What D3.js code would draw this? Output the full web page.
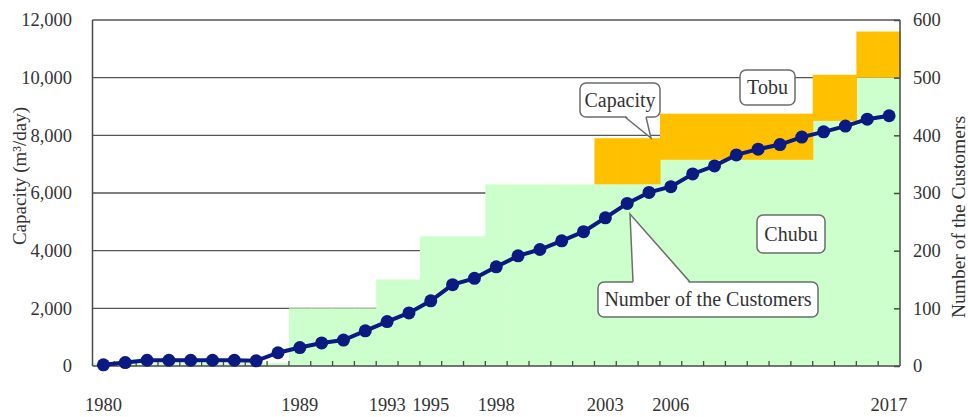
<!DOCTYPE html>
<html>
<head>
<meta charset="utf-8">
<script src="https://cdn.jsdelivr.net/npm/d3@7"></script>
<style>
  html, body { margin: 0; padding: 0; background: #fff; }
  svg { display: block; }
  text { font-family: "Liberation Serif", "Times New Roman", serif; fill: #333; }
</style>
</head>
<body>
<svg id="chart" width="968" height="417"></svg>
<script>
// ---------------- data ----------------
const years = [1980,1981,1982,1983,1984,1985,1986,1987,1988,1989,1990,1991,1992,1993,1994,1995,1996,1997,1998,1999,2000,2001,2002,2003,2004,2005,2006,2007,2008,2009,2010,2011,2012,2013,2014,2015,2016];
const customers = [2,6,10,10,10,10,10,9,23,32,40,45,61,77,92,113,141,152,172,191,202,217,233,257,282,301,311,333,347,366,376,384,397,406,416,428,434];
const chubu = [100,100,100,100,100,100,100,100,100,2000,2000,2000,2000,3000,3000,4500,4500,4500,6300,6300,6300,6300,6300,6300,6300,6300,7150,7150,7150,7150,7150,7150,7150,8500,8500,10000,10000];
const tobu  = [0,0,0,0,0,0,0,0,0,0,0,0,0,0,0,0,0,0,0,0,0,0,0,1600,1600,1600,1600,1600,1600,1600,1600,1600,1600,1600,1600,1600,1600];
const leftTicks = [0,2000,4000,6000,8000,10000,12000];
const rightTicks = [0,100,200,300,400,500,600];
const tickYears  = [1980,1989,1993,1995,1998,2003,2006,2016];
const tickLabels = ["1980","1989","1993","1995","1998","2003","2006","2017"];
const leftTitle = "Capacity (m³/day)";
const rightTitle = "Number of the Customers";

// ---------------- layout ----------------
const X0 = 92.5, X1 = 900, YT = 20, YB = 366;
const svg = d3.select("#chart");
const x = d3.scaleBand().domain(years).range([X0, X1]).padding(0);
const bw = x.bandwidth();
const yL = d3.scaleLinear().domain([0, 12000]).range([YB, YT]);
const yR = d3.scaleLinear().domain([0, 600]).range([YB, YT]);

const GREEN = "#ccffcc", ORANGE = "#ffc000", NAVY = "#0b1a80", AX = "#4a4a4a";

// gridlines
svg.append("g").selectAll("line").data(leftTicks.filter(d => d > 0)).join("line")
  .attr("x1", X0).attr("x2", X1)
  .attr("y1", d => yL(d)).attr("y2", d => yL(d))
  .attr("stroke", "#555").attr("stroke-width", 1.3);

// stacked capacity steps
const stackData = years.map((yr, i) => ({ year: yr, chubu: chubu[i], tobu: tobu[i] }));
const series = d3.stack().keys(["chubu", "tobu"])(stackData);
const colors = { chubu: GREEN, tobu: ORANGE };
series.forEach(s => {
  svg.append("g").selectAll("rect").data(s).join("rect")
    .attr("x", d => x(d.data.year))
    .attr("width", bw + 0.6)
    .attr("y", d => yL(d[1]))
    .attr("height", d => Math.max(0, yL(d[0]) - yL(d[1])))
    .attr("fill", colors[s.key]);
});

// frame lines
svg.append("line").attr("x1", X0).attr("x2", X0).attr("y1", YT).attr("y2", YB).attr("stroke", AX).attr("stroke-width", 1.5);
svg.append("line").attr("x1", X1).attr("x2", X1).attr("y1", YT).attr("y2", YB).attr("stroke", AX).attr("stroke-width", 1.5);
svg.append("line").attr("x1", X0).attr("x2", X1).attr("y1", YB).attr("y2", YB).attr("stroke", AX).attr("stroke-width", 1.5);

// left axis labels
const gL = svg.append("g").attr("transform", `translate(${X0},0)`)
  .call(d3.axisLeft(yL).tickValues(leftTicks).tickFormat(d3.format(",")).tickSize(0).tickPadding(20.5));
gL.select(".domain").remove();
gL.selectAll("text").style("font-family", '"Liberation Serif", serif').style("font-size", "18.5px").attr("fill", "#333");

// right axis with inward ticks
const gR = svg.append("g").attr("transform", `translate(${X1},0)`)
  .call(d3.axisRight(yR).tickValues(rightTicks).tickSizeInner(-6).tickSizeOuter(0).tickPadding(13));
gR.select(".domain").remove();
gR.selectAll("line").attr("stroke", AX).attr("stroke-width", 1.5);
gR.selectAll("text").attr("x", 13).style("font-family", '"Liberation Serif", serif').style("font-size", "18.5px").attr("fill", "#333");

// bottom axis: labels + inward ticks at band boundaries
const gB = svg.append("g").attr("transform", `translate(0,${YB})`)
  .call(d3.axisBottom(x).tickValues(tickYears).tickFormat((d) => tickLabels[tickYears.indexOf(d)]).tickSize(0).tickPadding(32));
gB.select(".domain").remove();
gB.selectAll("text").style("font-family", '"Liberation Serif", serif').style("font-size", "18.5px").attr("fill", "#333");
svg.append("g").selectAll("line").data(years.slice(1)).join("line")
  .attr("x1", d => x(d)).attr("x2", d => x(d))
  .attr("y1", YB).attr("y2", YB - 5)
  .attr("stroke", AX).attr("stroke-width", 1.3);

// axis titles
svg.append("text").attr("transform", "translate(26,176) rotate(-90)")
  .attr("text-anchor", "middle").style("font-size", "19px").text(leftTitle);
svg.append("text").attr("transform", "translate(965,217) rotate(-90)")
  .attr("text-anchor", "middle").style("font-size", "19.5px").text(rightTitle);

// customers line + markers
const line = d3.line().x((d, i) => x(years[i]) + bw / 2).y(d => yR(d));
svg.append("path").datum(customers).attr("d", line)
  .attr("fill", "none").attr("stroke", NAVY).attr("stroke-width", 4);
svg.append("g").selectAll("circle").data(customers).join("circle")
  .attr("cx", (d, i) => x(years[i]) + bw / 2).attr("cy", d => yR(d))
  .attr("r", 6.5).attr("fill", NAVY);

// callouts
function callout(bx, by, w, h, label, tail) {
  const g = svg.append("g");
  g.append("rect").attr("x", bx).attr("y", by).attr("width", w).attr("height", h)
    .attr("rx", 6).attr("fill", "#fff").attr("stroke", "#6a6f6a").attr("stroke-width", 1.5);
  if (tail) {
    const [ax, bx2, baseY, tx, ty, dir] = tail;
    const inset = dir * 2;
    g.append("path").attr("d", `M${ax},${baseY + inset}L${tx},${ty}L${bx2},${baseY + inset}Z`).attr("fill", "#fff");
    g.append("path").attr("d", `M${ax},${baseY}L${tx},${ty}L${bx2},${baseY}`)
      .attr("fill", "none").attr("stroke", "#6a6f6a").attr("stroke-width", 1.5);
  }
  g.append("text").attr("x", bx + w / 2).attr("y", by + h / 2 + 6.5)
    .attr("text-anchor", "middle").style("font-size", "20px").attr("fill", "#222").text(label);
}
callout(580, 83, 80, 34, "Capacity", [625, 646, 117, 651, 138, -1]);
callout(740, 70, 55, 35, "Tobu");
callout(757, 215, 68, 38, "Chubu");
callout(598, 282, 220, 35, "Number of the Customers", [633, 690, 282, 630, 214, 1]);
</script>
</body>
</html>
